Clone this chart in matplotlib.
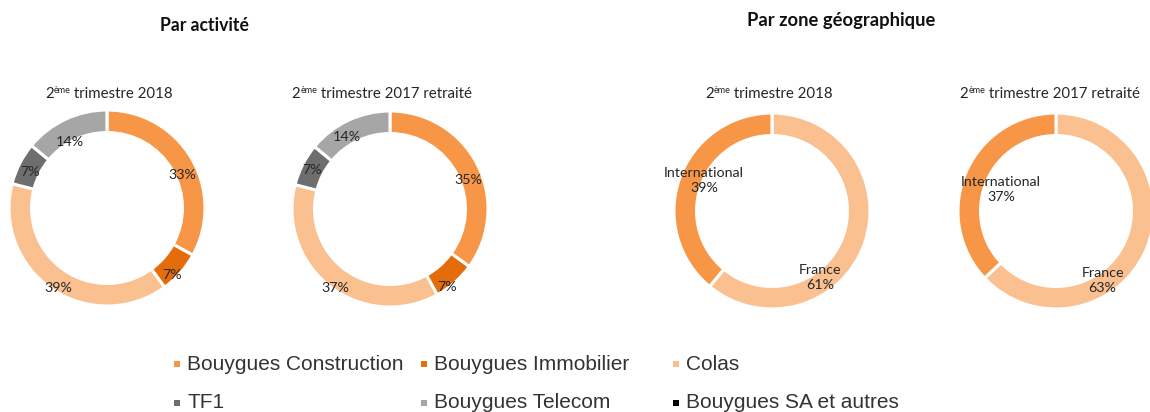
import matplotlib
matplotlib.use("Agg")
import matplotlib.pyplot as plt
import numpy as np

W, H = 1150, 412
DPI = 100

# ---------------- data ----------------
activities = ["Bouygues Construction", "Bouygues Immobilier", "Colas",
              "TF1", "Bouygues Telecom", "Bouygues SA et autres"]
act_colors = ["#F79646", "#E46C0A", "#FAC090", "#6E6E6E", "#A6A6A6", "#000000"]
act_q2_2018 = [33, 7, 39, 7, 14, 0]
act_q2_2017 = [35, 7, 37, 7, 14, 0]

zones = ["France", "International"]
zone_colors = ["#FAC090", "#F79646"]
zone_q2_2018 = [61, 39]
zone_q2_2017 = [63, 37]

period_labels = ["trimestre 2018", "trimestre 2017 retraité"]
section_titles = ["Par activité", "Par zone géographique"]

TXT = "#262626"
FONT = "Lato"

fig = plt.figure(figsize=(W / DPI, H / DPI), dpi=DPI)
fig.patch.set_facecolor("white")


def px_axes(cx, cy, r):
    return fig.add_axes([(cx - r) / W, (H - cy - r) / H, 2 * r / W, 2 * r / H])


def donut(cx, cy, r, values, colors, label_pos, labels=None):
    ax = px_axes(cx, cy, r)
    vals = [v for v in values if v > 0]
    cols = [c for v, c in zip(values, colors) if v > 0]
    names = [n for v, n in zip(values, labels) if v > 0] if labels else None
    ax.pie(vals, colors=cols, startangle=90, counterclock=False,
           radius=1.0, wedgeprops=dict(width=0.23, edgecolor="white", linewidth=2.2))
    for i, v in enumerate(vals):
        a, rr = label_pos[i]
        x, y = rr * np.cos(np.radians(a)), rr * np.sin(np.radians(a))
        s = f"{v}%"
        if names:
            s = f"{names[i]}\n{v}%"
        ax.text(x, y, s, ha="center", va="center", fontsize=10.3, color=TXT,
                family=FONT, linespacing=1.3)
    ax.set_xlim(-1, 1)
    ax.set_ylim(-1, 1)
    ax.set_aspect("auto")
    ax.axis("off")
    return ax


# overlay axes for text/legend in pixel coordinates
ov = fig.add_axes([0, 0, 1, 1])
ov.set_xlim(0, W)
ov.set_ylim(H, 0)
ov.axis("off")

R = 98
donut(107, 208, R, act_q2_2018, act_colors,
      [(23.7, 0.84), (-45.9, 0.95), (-121.5, 0.96), (155, 0.87), (119.3, 0.77)])
donut(390, 209, R, act_q2_2017, act_colors,
      [(20.4, 0.85), (-53.8, 0.99), (-124.8, 0.98), (153.4, 0.89), (120.8, 0.86)])
donut(772, 211, R, zone_q2_2018, zone_colors,
      [(-54, 0.84), (156, 0.76)], labels=zones)
donut(1056, 211, R, zone_q2_2017, zone_colors,
      [(-56, 0.85), (159, 0.6)], labels=zones)

# section titles
ov.text(204, 25, section_titles[0], ha="center", va="center", fontsize=12.7,
        fontweight="bold", family=FONT, color="#111111")
ov.text(841, 20, section_titles[1], ha="center", va="center", fontsize=13.2,
        fontweight="bold", family=FONT, color="#111111")

# sub titles with superscript
fig.canvas.draw()
renderer = fig.canvas.get_renderer()


def subtitle(cx, y, rest):
    parts = [("2", 10.8, 0), ("ème", 6.5, 5), (" " + rest, 10.8, 0)]
    arts = []
    for s, fs, dy in parts:
        t = ov.text(0, y - dy, s, ha="left", va="baseline", fontsize=fs,
                    family=FONT, color=TXT)
        arts.append(t)
    widths = [a.get_window_extent(renderer).width for a in arts]
    x = cx - sum(widths) / 2.0
    for a, w in zip(arts, widths):
        a.set_x(x)
        x += w


subtitle(109, 98, period_labels[0])
subtitle(382, 98, period_labels[1])
subtitle(769, 98, period_labels[0])
subtitle(1050, 98, period_labels[1])

# legend
col_x = [177, 424, 676]
row_y = [364, 403]
for i, (name, col) in enumerate(zip(activities, act_colors)):
    x = col_x[i % 3]
    y = row_y[i // 3]
    ov.scatter([x], [y], marker="s", s=22, color=col, linewidths=0)
    ov.text(x + 10, y, name, ha="left", va="center", fontsize=15,
            family="Liberation Sans", color="#333333")

fig.savefig("out.png", dpi=DPI, facecolor="white")
